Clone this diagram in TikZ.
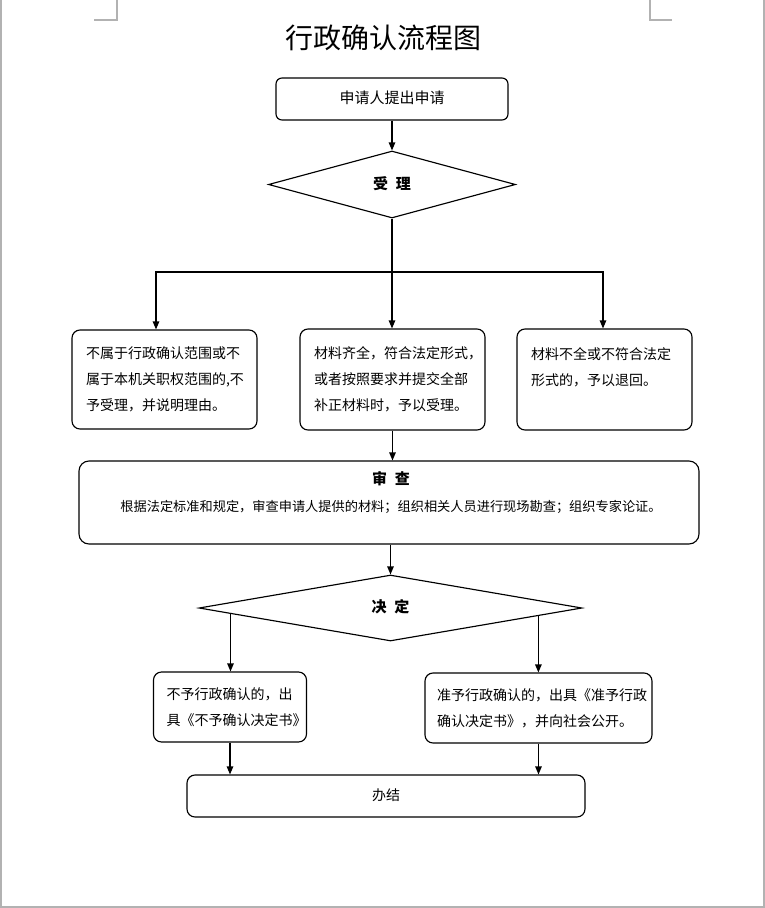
\documentclass[tikz,border=0pt]{standalone}
\usepackage{fontspec}
\setmainfont{Noto Sans CJK SC}
\usetikzlibrary{arrows.meta,shapes.geometric,calc}
\tikzset{
  box/.style={draw=black, line width=1.15pt, rounded corners=8pt, align=left, inner ysep=0pt},
  dia/.style={draw=black, line width=1.15pt, diamond, inner sep=0pt},
  arr/.style={line width=1.15pt, -{Triangle[length=8pt,width=6.5pt]}},
  ln/.style={line width=1.15pt},
  frame/.style={draw=black!30, line width=1.2pt},
  body/.style={font=\fontsize{14}{26}\selectfont},
}
\begin{document}
\begin{tikzpicture}[x=1pt,y=-1pt]
\useasboundingbox (0,0) rectangle (765,908);
% page frame and crop marks
\draw[frame] (1,0) -- (1,907) -- (764,907) -- (764,0);
\draw[frame] (94,20) -- (117,20) -- (117,0);
\draw[frame] (672,20) -- (650,20) -- (650,0);

\node[font=\fontsize{28}{30}\selectfont] (title) at (383,38) {行政确认流程图};

\node[box, rounded corners=6pt, minimum width=232pt, minimum height=42pt, align=center, font=\fontsize{15}{18}\selectfont] (n1) at (392,99) {\raisebox{3pt}{申请人提出申请}};

\node[dia, minimum width=247pt, minimum height=67pt, font=\fontsize{15}{18}\selectfont\bfseries] (d1) at (392,184.5) {\raisebox{3pt}{受\hspace{8pt}理}};

\coordinate (split) at (392,272);

\node[box, body, minimum height=99pt, text width=157pt, inner xsep=14pt] (b1) at (164.5,379.5)
  {不属于行政确认范围或不\\属于本机关职权范围的,不\\予受理，并说明理由。};
\node[box, body, minimum height=101pt, text width=157pt, inner xsep=14pt] (b2) at (392.5,379.5)
  {材料齐全，符合法定形式，\\或者按照要求并提交全部\\补正材料时，予以受理。};
\node[box, body, minimum height=101pt, text width=147pt, inner xsep=14pt] (b3) at (604.5,379.5)
  {材料不全或不符合法定\\形式的，予以退回。\\\mbox{}};

\node[box, rounded corners=10pt, minimum width=620pt, minimum height=83pt] (rev) at (389,502.5) {};
\node[font=\fontsize{15}{18}\selectfont\bfseries] (revt) at ($(rev.north)+(2,18)$) {审\hspace{8pt}查};
\node[font=\fontsize{13.2}{16}\selectfont] (revb) at ($(rev.north)+(2,47)$)
  {根据法定标准和规定，审查申请人提供的材料；组织相关人员进行现场勘查；组织专家论证。};

\node[dia, minimum width=383pt, minimum height=66pt, font=\fontsize{15}{18}\selectfont\bfseries] (d2) at (390.5,608) {\raisebox{5pt}{决\hspace{8pt}定}};

\node[box, body, minimum height=70pt, text width=127pt, inner xsep=13pt] (c1) at (230,707)
  {不予行政确认的，出\\具《不予确认决定书》};
\node[box, body, minimum height=70pt, text width=203pt, inner xsep=12pt] (c2) at (538.5,708)
  {准予行政确认的，出具《准予行政\\确认决定书》，并向社会公开。};

\node[box, minimum width=398pt, minimum height=42pt, align=center, font=\fontsize{14}{18}\selectfont] (fin) at (386,796) {\raisebox{3pt}{办结}};

% connectors
\draw[arr] (n1.south) -- (d1.north);
\draw[ln] (d1.south) -- (split);
\draw[arr] (split) -| ([xshift=-8.5pt]b1.north);
\draw[arr] (split) -| ([xshift=-1.5pt]b3.north);
\draw[arr] (split) -- (split |- b2.north);
\draw[arr] (b2.south) -- (b2.south |- rev.north);
\draw[arr] (rev.south -| d2.north) -- (d2.north);
\coordinate (p1) at ($(d2.west)!0.167!(d2.south)$);
\coordinate (p2) at ($(d2.east)!0.23!(d2.south)$);
\draw[arr] (p1) -- (p1 |- c1.north);
\draw[arr] (p2) -- (p2 |- c2.north);
\draw[arr] (c1.south) -- (c1.south |- fin.north);
\draw[arr] (c2.south) -- (c2.south |- fin.north);
\end{tikzpicture}
\end{document}
